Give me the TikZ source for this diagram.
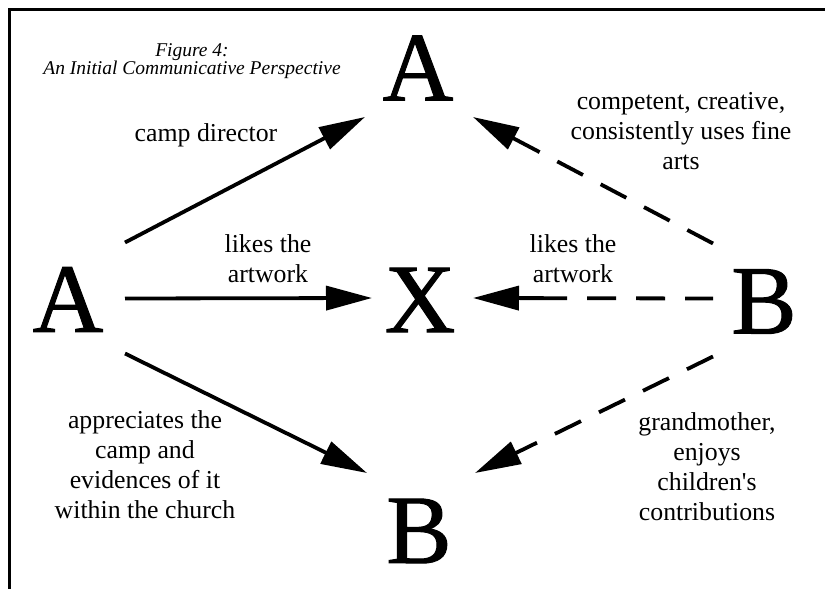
\documentclass[tikz,border=0pt]{standalone}
\usepackage{fontspec}
\setmainfont{Liberation Serif}
\newfontfamily\letterfont[FakeBold=1]{Liberation Serif}
\usetikzlibrary{arrows.meta,calc}
\begin{document}
\begin{tikzpicture}[x=1pt,y=-1pt,
  letter/.style={inner sep=0pt, font=\letterfont\fontsize{98}{98}\selectfont},
  lbl/.style={inner sep=0pt, align=center, anchor=north, font=\fontsize{25.8}{30}\selectfont},
  heading/.style={inner sep=0pt, align=center, anchor=north, font=\itshape\fontsize{19.5}{18.5}\selectfont},
  conn/.style={line width=3.8pt, -{Triangle[length=46pt,width=24pt]}},
  dashdiag/.style={dash pattern=on 29pt off 20pt on 29pt off 20pt on 29pt off 20pt on 29pt off 20pt on 400pt off 1pt},
  dashflat/.style={dash pattern=on 28pt off 20pt on 29pt off 20pt on 29pt off 20pt on 400pt off 1pt}]
\useasboundingbox (0,0) rectangle (825,589);

% open frame: left and top edges only
\draw[line width=2.5pt] (9.5,589) -- (9.5,9.5) -- (825,9.5);

% title
\node[heading] (title) at (192,43.3) {Figure 4:\\An Initial Communicative Perspective};

% the five letters
\node[letter] (aT) at (418,68) {A};
\node[letter] (aL) at (68,299.5) {A};
\node[letter] (xN) at (420,300) {X};
\node[letter] (bR) at (764,301.5) {B};
\node[letter] (bB) at (419,531) {B};

% solid arrows from the left A
\draw[conn] ($(aL)+(57,-57)$) -- ($(aT)+(-53,49)$);
\draw[conn] ($(aL)+(57,-1)$) -- ($(xN)+(-48,-2)$);
\draw[conn] ($(aL)+(57,54)$) -- ($(bB)+(-52,-58)$);

% dashed arrows from the right B
\draw[conn,dashdiag] ($(bR)+(-51,-58)$) -- ($(aT)+(55,49)$);
\draw[conn,dashflat] ($(bR)+(-51,-3)$) -- ($(xN)+(53,-2)$);
\draw[conn,dashdiag] ($(bR)+(-51,55)$) -- ($(bB)+(56,-58)$);

% labels
\node[lbl,anchor=base] (lCamp) at (206,141) {camp director};
\node[lbl] (lLikesL) at (268,234) {likes the\\artwork};
\node[lbl] (lLikesR) at (573,234) {likes the\\artwork};
\node[lbl] (lComp) at (681,92.5) {competent, creative,\\consistently uses fine\\arts};
\node[lbl] (lAppr) at (145,410.5) {appreciates the\\camp and\\evidences of it\\within the church};
\node[lbl] (lGrand) at (707,412.5) {grandmother,\\enjoys\\children\textquotesingle s\\contributions};
\end{tikzpicture}
\end{document}
